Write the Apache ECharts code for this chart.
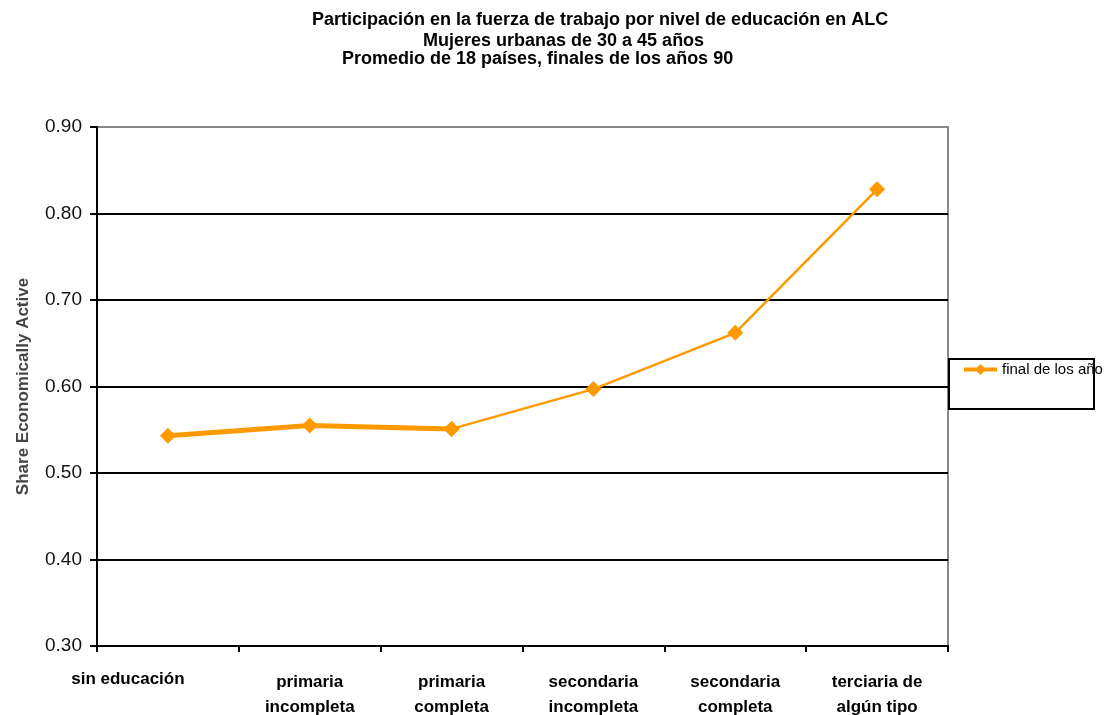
<!DOCTYPE html>
<html>
<head>
<meta charset="utf-8">
<script src="https://cdn.jsdelivr.net/npm/echarts@6/dist/echarts.min.js"></script>
<style>
  html, body { margin: 0; padding: 0; background: #fff; }
  #main { width: 1113px; height: 715px; }
</style>
</head>
<body>
<div id="main"></div>
<script>
var categorias = ['sin educación', 'primaria\nincompleta', 'primaria\ncompleta',
  'secondaria\nincompleta', 'secondaria\ncompleta', 'terciaria de\nalgún tipo'];
var valores = [0.543, 0.555, 0.551, 0.597, 0.662, 0.828];
var nombreSerie = 'final de los años';
var titulos = [
  'Participación en la fuerza de trabajo por nivel de educación en ALC',
  'Mujeres urbanas de 30 a 45 años',
  'Promedio de 18 países, finales de los años 90'
];

// primer tramo mas grueso, como en el original
var tramo1 = valores.map(function (v, i) { return i <= 2 ? v : null; });
var tramo2 = valores.map(function (v, i) { return i >= 2 ? v : null; });

var chart = echarts.init(document.getElementById('main'));
var fuente = 'Liberation Sans, Arial, sans-serif';
var naranja = '#FF9900';

var option = {
  animation: false,
  title: [
    { text: titulos[0], left: 312, top: 11 },
    { text: titulos[1], left: 423, top: 32 },
    { text: titulos[2], left: 342, top: 50 }
  ].map(function (t) {
    t.padding = 0;
    t.textStyle = { fontFamily: fuente, fontSize: 18, fontWeight: 'bold', color: '#000' };
    return t;
  }),
  grid: {
    left: 97, right: 165, top: 127, bottom: 69,
    outerBoundsMode: 'none', containLabel: false,
    show: true, borderColor: '#888', borderWidth: 2
  },
  legend: {
    left: 957, top: 357,
    itemWidth: 33, itemHeight: 14, itemGap: 4,
    data: [nombreSerie],
    lineStyle: { width: 4 },
    textStyle: {
      fontFamily: fuente, fontSize: 15, color: '#000',
      width: 108, overflow: 'truncate', ellipsis: ''
    }
  },
  graphic: [{
    type: 'rect',
    shape: { x: 949, y: 359, width: 145, height: 50 },
    style: { fill: 'none', stroke: '#000', lineWidth: 2 },
    z: 10
  }],
  xAxis: {
    type: 'category',
    data: categorias,
    boundaryGap: true,
    axisLine: { lineStyle: { color: '#000', width: 2 } },
    axisTick: { show: true, length: 6, lineStyle: { color: '#000', width: 2 } },
    axisLabel: {
      interval: 0, margin: 24,
      fontFamily: fuente, fontSize: 17, fontWeight: 'bold', color: '#000', lineHeight: 25,
      formatter: function (v, i) { return i === 0 ? '{a|' + v + '}' : v; },
      rich: { a: { fontFamily: fuente, fontSize: 17, fontWeight: 'bold', color: '#000', padding: [0, 80, 6, 0] } }
    }
  },
  yAxis: {
    type: 'value',
    min: 0.3, max: 0.9, interval: 0.1,
    name: 'Share Economically Active',
    nameLocation: 'middle', nameGap: 65,
    nameTextStyle: { fontFamily: fuente, fontSize: 17, fontWeight: 'bold', color: '#444' },
    axisLine: { show: true, lineStyle: { color: '#000', width: 2 } },
    axisTick: { show: true, length: 7, lineStyle: { color: '#000', width: 2 } },
    axisLabel: {
      margin: 15, fontFamily: fuente, fontSize: 19, color: '#111',
      formatter: function (v) { return v.toFixed(2); }
    },
    splitLine: {
      show: true,
      lineStyle: { color: ['#888', '#000', '#000', '#000', '#000', '#000', '#888'], width: 2 }
    }
  },
  series: [
    {
      name: nombreSerie, type: 'line', data: tramo1,
      symbol: 'diamond', symbolSize: 16,
      itemStyle: { color: naranja },
      lineStyle: { color: naranja, width: 5 },
      connectNulls: false, z: 3
    },
    {
      name: nombreSerie, type: 'line', data: tramo2,
      symbol: 'diamond', symbolSize: 16,
      itemStyle: { color: naranja },
      lineStyle: { color: naranja, width: 2.5 },
      connectNulls: false, z: 3
    }
  ]
};

chart.setOption(option);
</script>
</body>
</html>
